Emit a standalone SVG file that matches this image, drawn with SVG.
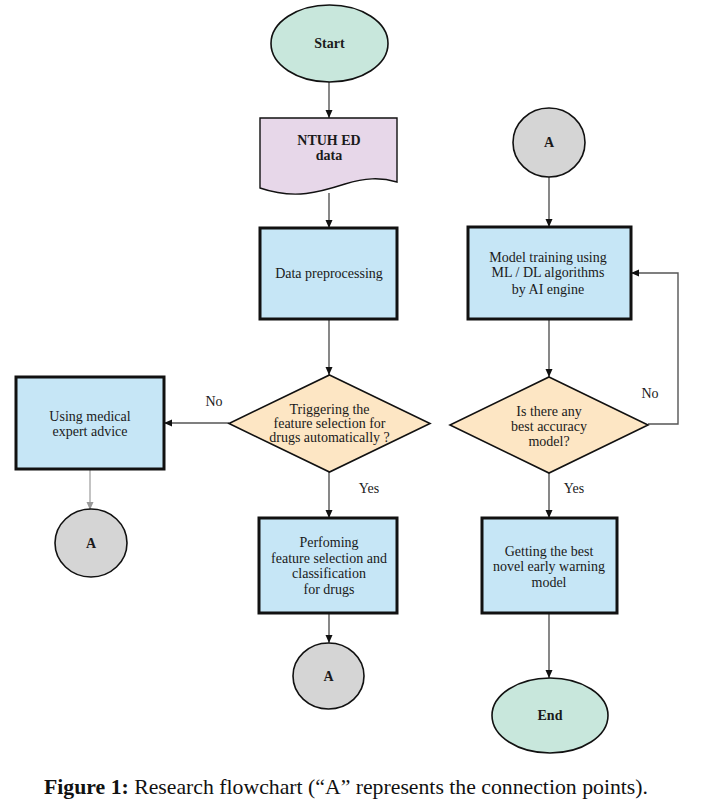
<svg xmlns="http://www.w3.org/2000/svg" width="714" height="812" viewBox="0 0 714 812">
<defs>
<marker id="ah" markerWidth="8" markerHeight="8" refX="8" refY="4" orient="auto" markerUnits="userSpaceOnUse">
<path d="M0,0.5 L8,4 L0,7.5 Z" fill="#111"/>
</marker>
<marker id="ahg" markerWidth="8" markerHeight="8" refX="8" refY="4" orient="auto" markerUnits="userSpaceOnUse">
<path d="M0,0.5 L8,4 L0,7.5 Z" fill="#999"/>
</marker>
</defs>
<style>
.t{font-family:"Liberation Serif","Times New Roman",serif;font-size:14px;fill:#1a1a1a;text-anchor:middle}
.b{font-weight:bold}
.term{fill:#c8e7dc;stroke:#111;stroke-width:1.6}
.doc{fill:#e7d7e9;stroke:#111;stroke-width:1.4}
.box{fill:#c6e6f6;stroke:#111;stroke-width:3}
.dia{fill:#fde6c4;stroke:#111;stroke-width:1.6}
.con{fill:#d5d5d5;stroke:#111;stroke-width:1.6}
.ln{fill:none;stroke:#555;stroke-width:1.4;marker-end:url(#ah)}
.lng{fill:none;stroke:#aaa;stroke-width:1.4;marker-end:url(#ahg)}
.cap{font-family:"Liberation Serif","Times New Roman",serif;font-size:21.5px;fill:#111}
</style>
<rect width="714" height="812" fill="#fff"/>
<g id="connectors">
<path class="ln" d="M329,82 V118"/>
<path class="ln" d="M329,193 V228"/>
<path class="ln" d="M329,319 V375"/>
<path class="ln" d="M229,423 H164"/>
<path class="lng" d="M90,469 V510"/>
<path class="ln" d="M329,472 V518"/>
<path class="ln" d="M329,613 V643"/>
<path class="ln" d="M549,177 V227"/>
<path class="ln" d="M549,319 V377"/>
<path class="ln" d="M648,424 H678 V273 H631"/>
<path class="ln" d="M549,473 V518"/>
<path class="ln" d="M549,613 V678"/>
<text class="t" x="214" y="406">No</text>
<text class="t" x="369" y="493">Yes</text>
<text class="t" x="650" y="398">No</text>
<text class="t" x="574" y="493">Yes</text>
</g>
<g id="start">
<ellipse class="term" cx="329.5" cy="43.5" rx="58.5" ry="38.5"/>
<text class="t b" x="329.5" y="48">Start</text>
</g>
<g id="ntuh">
<path class="doc" d="M260,118 H397 V182 C380,177 365,178 345,184 C320,192 295,200 260,188 Z"/>
<text class="t b" x="329" y="145">NTUH ED</text>
<text class="t b" x="329" y="160">data</text>
</g>
<g id="preprocess">
<rect class="box" x="260" y="228" width="137" height="91"/>
<text class="t" x="329" y="278">Data preprocessing</text>
</g>
<g id="trigger">
<polygon class="dia" points="329.5,375 430,423.5 329.5,472 229,423.5"/>
<text class="t" x="329.5" y="414">Triggering the</text>
<text class="t" x="329.5" y="428">feature selection for</text>
<text class="t" x="329.5" y="442">drugs automatically ?</text>
</g>
<g id="expert">
<rect class="box" x="16" y="377" width="148" height="92"/>
<text class="t" x="90" y="421">Using medical</text>
<text class="t" x="90" y="436">expert advice</text>
</g>
<g id="a-left">
<ellipse class="con" cx="91" cy="543" rx="36" ry="34"/>
<text class="t b" x="91" y="548">A</text>
</g>
<g id="perform">
<rect class="box" x="259" y="518" width="138" height="95"/>
<text class="t" x="329" y="547">Perfoming</text>
<text class="t" x="329" y="563">feature selection and</text>
<text class="t" x="329" y="578">classification</text>
<text class="t" x="329" y="594">for drugs</text>
</g>
<g id="a-mid">
<ellipse class="con" cx="328.5" cy="676" rx="35.5" ry="33"/>
<text class="t b" x="328.5" y="681">A</text>
</g>
<g id="a-right">
<ellipse class="con" cx="549" cy="142.5" rx="36" ry="34.5"/>
<text class="t b" x="549" y="147">A</text>
</g>
<g id="training">
<rect class="box" x="468" y="227" width="163" height="92"/>
<text class="t" x="548" y="262">Model training using</text>
<text class="t" x="548" y="277">ML / DL algorithms</text>
<text class="t" x="548" y="294">by AI engine</text>
</g>
<g id="best">
<polygon class="dia" points="549,377 648,425 549,473 450,425"/>
<text class="t" x="549" y="416">Is there any</text>
<text class="t" x="549" y="431">best accuracy</text>
<text class="t" x="549" y="446">model?</text>
</g>
<g id="getting">
<rect class="box" x="482" y="518" width="135" height="95"/>
<text class="t" x="549" y="556">Getting the best</text>
<text class="t" x="549" y="571">novel early warning</text>
<text class="t" x="549" y="587">model</text>
</g>
<g id="end">
<ellipse class="term" cx="550" cy="715.5" rx="58" ry="37.5"/>
<text class="t b" x="550" y="720">End</text>
</g>
<text class="cap" x="44" y="794" textLength="604" lengthAdjust="spacingAndGlyphs"><tspan font-weight="bold">Figure 1:</tspan> Research flowchart (“A” represents the connection points).</text>
</svg>
